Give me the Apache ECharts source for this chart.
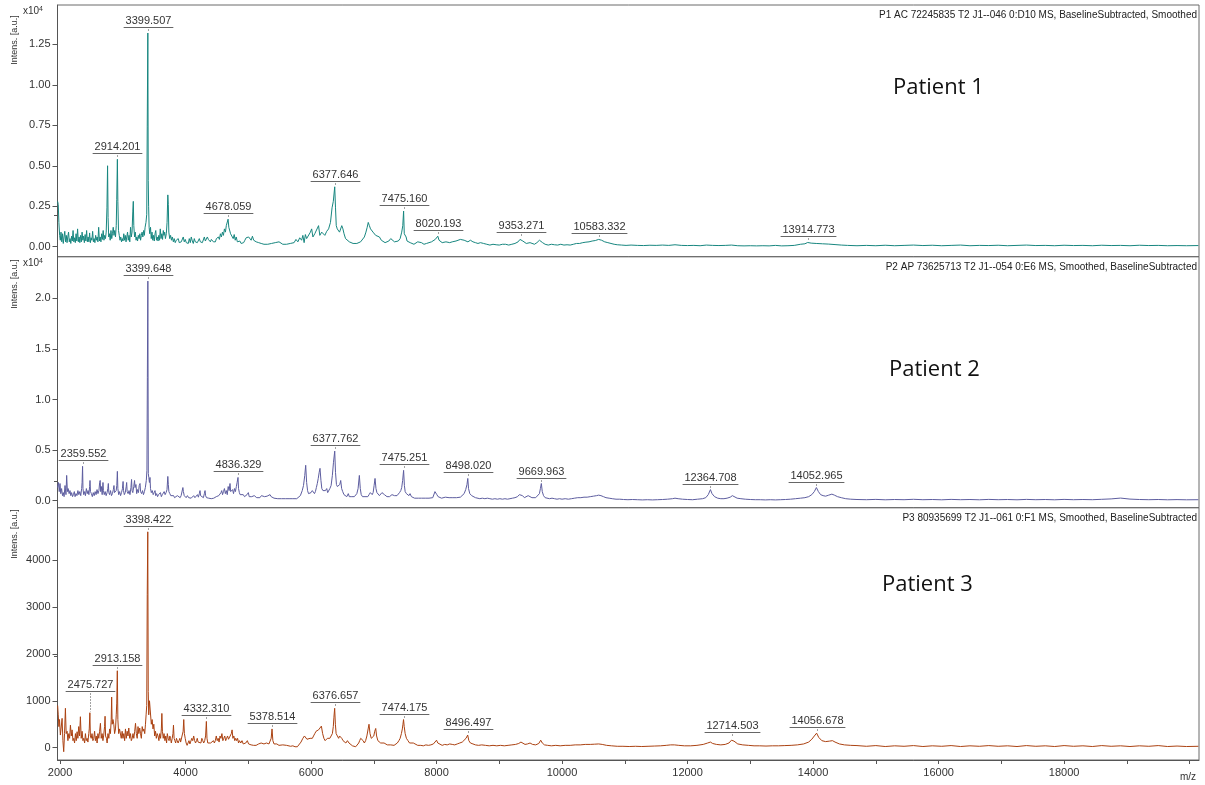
<!DOCTYPE html>
<html><head><meta charset="utf-8">
<script src="https://cdn.jsdelivr.net/npm/echarts@6/dist/echarts.min.js"></script>
<style>html,body{margin:0;padding:0;background:#fff}#c{width:1205px;height:785px}</style>
</head><body><div id="c"></div>
<script>
// ---------- DATA (m/z, intensity [a.u.]) ----------
const spectrum1 = [[1962,2800],[1972,2600],[1982,1500],[1994,700],[2005,400],[2016,900],[2028,300],[2040,800],[2052,200],[2064,600],[2076,950],[2088,300],[2100,700],[2112,250],[2124,600],[2136,900],[2148,300],[2160,500],[2172,200],[2184,650],[2196,350],[2208,1000],[2220,300],[2232,550],[2244,250],[2256,800],[2268,350],[2280,1100],[2292,300],[2304,600],[2316,250],[2328,700],[2340,300],[2352,900],[2364,400],[2376,650],[2388,250],[2400,750],[2412,350],[2424,1000],[2436,300],[2448,600],[2460,300],[2472,850],[2484,250],[2496,550],[2508,400],[2520,950],[2532,300],[2544,500],[2556,250],[2568,700],[2580,400],[2592,600],[2604,300],[2616,1200],[2628,350],[2640,600],[2652,300],[2664,800],[2676,450],[2688,1000],[2700,400],[2712,700],[2724,500],[2736,900],[2748,2400],[2758,5000],[2766,1800],[2776,600],[2788,800],[2800,400],[2812,1000],[2824,500],[2836,800],[2848,1200],[2860,700],[2872,1000],[2884,600],[2896,1300],[2904,2900],[2914.201,5400],[2922,2800],[2932,1000],[2944,700],[2956,400],[2968,600],[2980,300],[2992,500],[3004,350],[3016,800],[3028,400],[3040,700],[3052,300],[3064,600],[3076,900],[3088,400],[3100,700],[3112,300],[3124,1200],[3136,600],[3148,900],[3160,2200],[3168,2800],[3176,1300],[3188,600],[3200,900],[3212,400],[3224,600],[3236,350],[3248,700],[3260,500],[3272,800],[3284,400],[3296,700],[3308,900],[3320,600],[3332,1000],[3344,700],[3356,1200],[3370,1500],[3382,2000],[3390,7400],[3399.507,13200],[3406,4100],[3412,2500],[3420,1200],[3430,800],[3442,1200],[3454,500],[3466,900],[3478,400],[3490,700],[3502,350],[3514,800],[3526,1000],[3538,400],[3550,600],[3562,350],[3574,700],[3586,400],[3598,1100],[3610,500],[3622,800],[3634,450],[3646,1000],[3656,700],[3668,900],[3680,500],[3694,800],[3706,1500],[3718,3200],[3726,2600],[3734,900],[3748,500],[3762,700],[3776,400],[3790,600],[3806,300],[3820,500],[3836,250],[3852,400],[3868,300],[3884,500],[3900,250],[3916,350],[3932,300],[3948,200],[3964,600],[3980,300],[3996,450],[4012,250],[4028,350],[4044,200],[4060,500],[4076,250],[4092,600],[4108,350],[4124,200],[4140,500],[4156,300],[4172,400],[4188,250],[4204,300],[4220,500],[4236,300],[4252,400],[4268,250],[4284,300],[4300,600],[4316,350],[4332,400],[4348,600],[4364,450],[4380,500],[4396,300],[4412,450],[4428,350],[4444,300],[4460,400],[4476,300],[4492,500],[4508,400],[4524,600],[4540,450],[4556,800],[4572,600],[4588,900],[4604,700],[4620,1100],[4636,900],[4650,1300],[4664,1400],[4678.059,1700],[4690,1200],[4704,1300],[4718,800],[4732,900],[4746,700],[4760,500],[4776,750],[4792,400],[4808,600],[4826,300],[4846,250],[4866,350],[4886,200],[4906,300],[4926,250],[4946,400],[4966,550],[4986,450],[5006,600],[5026,500],[5046,400],[5066,650],[5086,400],[5106,450],[5126,300],[5146,350],[5166,250],[5186,300],[5206,200],[5226,250],[5250,150],[5280,200],[5310,150],[5340,120],[5370,200],[5400,150],[5430,250],[5460,200],[5490,300],[5520,200],[5550,150],[5580,200],[5610,150],[5640,120],[5670,200],[5700,150],[5730,250],[5760,450],[5790,300],[5820,550],[5850,400],[5870,700],[5890,250],[5910,750],[5930,500],[5960,600],[5990,900],[6010,1100],[6030,600],[6060,800],[6090,900],[6120,1300],[6140,700],[6170,900],[6190,1000],[6220,700],[6250,950],[6280,1100],[6310,1500],[6335,2400],[6355,2800],[6377.646,3700],[6390,2400],[6402,1300],[6418,1100],[6436,1200],[6454,900],[6472,1000],[6490,1300],[6508,1100],[6526,800],[6550,500],[6580,400],[6610,300],[6640,250],[6670,200],[6700,150],[6730,200],[6760,150],[6790,300],[6820,350],[6850,600],[6875,900],[6895,1200],[6912,1500],[6930,1300],[6948,1100],[6968,1000],[6988,900],[7008,800],[7030,700],[7060,800],[7090,600],[7120,400],[7150,300],[7180,250],[7210,300],[7240,350],[7270,500],[7300,400],[7330,300],[7360,250],[7390,350],[7420,500],[7445,900],[7462,1300],[7475.160,2200],[7486,800],[7500,700],[7515,600],[7530,350],[7555,300],[7580,250],[7610,200],[7640,150],[7670,250],[7700,300],[7730,200],[7760,250],[7800,150],[7840,200],[7880,250],[7920,300],[7950,350],[7980,450],[8000,550],[8020.193,650],[8040,400],[8060,300],[8090,250],[8120,200],[8150,300],[8180,350],[8210,250],[8250,300],[8280,250],[8310,350],[8340,300],[8380,450],[8410,500],[8440,400],[8470,450],[8500,300],[8540,400],[8580,300],[8620,250],[8660,200],[8700,250],[8750,200],[8800,150],[8850,100],[8900,150],[8950,120],[9000,100],[9050,150],[9100,150],[9150,100],[9200,150],[9250,200],[9300,300],[9330,450],[9353.271,550],[9375,350],[9400,250],[9430,200],[9460,300],[9490,250],[9520,200],[9560,150],[9600,250],[9640,400],[9665,450],[9690,250],[9730,150],[9780,100],[9830,150],[9880,120],[9930,100],[9980,150],[10030,100],[10080,120],[10130,100],[10180,150],[10230,200],[10280,200],[10330,250],[10380,280],[10430,300],[10480,350],[10530,380],[10583.332,450],[10630,400],[10680,300],[10730,250],[10780,200],[10830,150],[10880,120],[10950,100],[11020,80],[11100,100],[11200,80],[11300,70],[11400,90],[11500,80],[11600,100],[11700,80],[11800,120],[11900,80],[12000,70],[12100,80],[12200,60],[12300,100],[12400,80],[12500,70],[12600,80],[12700,100],[12800,60],[12900,50],[13000,60],[13100,50],[13200,60],[13300,50],[13400,80],[13500,50],[13600,60],[13700,80],[13800,150],[13870,180],[13914.773,260],[13970,220],[14050,200],[14150,180],[14250,160],[14350,130],[14450,100],[14550,80],[14700,60],[14850,80],[15000,60],[15150,90],[15300,60],[15450,80],[15600,100],[15750,70],[15900,90],[16050,60],[16200,80],[16350,100],[16500,60],[16650,80],[16800,70],[16950,90],[17100,60],[17250,80],[17400,100],[17550,70],[17700,80],[17850,60],[18000,90],[18150,70],[18300,80],[18450,60],[18600,90],[18750,70],[18900,80],[19050,60],[19200,90],[19350,70],[19500,80],[19650,60],[19800,70],[19950,60],[20140,70]];

const spectrum2 = [[1962,1300],[1975,1800],[1988,900],[2000,1700],[2012,700],[2025,1200],[2040,500],[2053,800],[2065,400],[2080,1500],[2095,600],[2106,2500],[2118,900],[2130,1200],[2145,700],[2159,1000],[2172,500],[2185,800],[2200,400],[2213,600],[2228,900],[2240,400],[2255,700],[2270,500],[2285,1000],[2300,600],[2315,900],[2330,500],[2345,1200],[2352,1800],[2359.552,3400],[2366,1200],[2378,600],[2392,900],[2405,500],[2420,1200],[2435,700],[2448,1000],[2460,600],[2472,1400],[2478,2000],[2486,900],[2500,700],[2515,400],[2530,800],[2545,500],[2560,900],[2575,600],[2590,1100],[2605,700],[2620,1000],[2632,1800],[2640,2000],[2648,900],[2660,1400],[2672,600],[2685,1800],[2692,1000],[2705,600],[2720,900],[2735,500],[2750,800],[2762,1200],[2770,1700],[2778,800],[2790,600],[2805,1000],[2820,500],[2835,700],[2850,1100],[2860,1500],[2868,800],[2880,700],[2895,1000],[2905,1500],[2914,2900],[2922,1200],[2935,600],[2950,900],[2965,500],[2980,800],[2995,1200],[3005,1900],[3012,1000],[3025,600],[3040,800],[3055,1400],[3062,1800],[3070,900],[3085,700],[3100,1000],[3115,600],[3130,1300],[3140,2100],[3148,1000],[3160,800],[3175,1400],[3188,2000],[3196,1300],[3210,1600],[3222,700],[3235,1100],[3250,800],[3262,1500],[3275,1700],[3284,900],[3300,700],[3315,1000],[3330,600],[3345,900],[3360,1300],[3375,2000],[3385,3000],[3392,12200],[3399.648,21700],[3407,2700],[3415,2300],[3425,1800],[3434,2300],[3442,1200],[3455,800],[3470,1000],[3485,600],[3500,800],[3514,1000],[3525,500],[3540,700],[3555,400],[3570,600],[3585,500],[3600,800],[3615,400],[3630,600],[3645,500],[3660,900],[3675,600],[3690,800],[3705,1100],[3718,2400],[3726,1600],[3735,900],[3750,700],[3765,500],[3780,600],[3795,400],[3810,500],[3825,300],[3840,400],[3855,300],[3870,500],[3885,350],[3900,400],[3915,300],[3930,500],[3945,600],[3958,1300],[3966,900],[3980,500],[3995,400],[4010,300],[4030,500],[4050,300],[4070,400],[4090,250],[4110,300],[4130,500],[4150,300],[4170,400],[4190,600],[4205,350],[4220,700],[4231,1000],[4240,500],[4255,400],[4270,600],[4285,300],[4300,700],[4311,1000],[4320,500],[4335,300],[4350,400],[4370,250],[4390,300],[4410,200],[4430,350],[4450,250],[4470,300],[4490,400],[4510,300],[4530,500],[4550,600],[4565,800],[4577,1000],[4590,600],[4605,900],[4620,1200],[4635,700],[4650,1000],[4665,600],[4680,1400],[4695,1000],[4709,1700],[4720,900],[4735,800],[4750,1100],[4765,700],[4780,1200],[4795,900],[4810,1400],[4822,1800],[4836.329,2300],[4845,1200],[4858,800],[4870,600],[4885,700],[4900,500],[4920,600],[4940,400],[4960,500],[4980,600],[5001,800],[5015,400],[5035,300],[5055,400],[5075,300],[5095,500],[5115,400],[5135,300],[5160,400],[5185,300],[5210,500],[5240,500],[5260,400],[5280,300],[5300,450],[5320,350],[5347,600],[5365,400],[5385,300],[5410,250],[5440,300],[5470,200],[5500,250],[5530,200],[5558,300],[5590,200],[5620,150],[5650,200],[5680,150],[5710,200],[5740,150],[5772,200],[5800,300],[5830,500],[5860,1000],[5880,1500],[5900,2500],[5915,3500],[5930,1800],[5945,1000],[5960,700],[5980,600],[6000,800],[6020,1000],[6037,1000],[6055,700],[6070,900],[6085,1300],[6100,1700],[6115,2200],[6130,2800],[6143,3200],[6158,2000],[6172,1200],[6190,1000],[6210,900],[6230,1000],[6250,1200],[6265,800],[6280,900],[6300,1200],[6320,1500],[6340,2500],[6358,3800],[6377.762,4900],[6390,2800],[6405,1600],[6420,1400],[6440,1300],[6458,1600],[6473,2000],[6488,1200],[6505,900],[6525,600],[6545,500],[6570,400],[6594,700],[6610,400],[6630,300],[6650,400],[6670,300],[6690,400],[6710,500],[6730,700],[6750,1200],[6770,2500],[6785,1200],[6800,600],[6820,400],[6840,300],[6860,400],[6887,500],[6905,400],[6925,600],[6945,800],[6960,900],[6975,600],[6990,800],[7005,1500],[7020,2200],[7035,1200],[7050,800],[7070,700],[7090,500],[7110,600],[7130,800],[7152,800],[7170,600],[7190,500],[7210,400],[7230,500],[7250,400],[7270,500],[7290,600],[7312,600],[7330,500],[7350,600],[7370,500],[7390,600],[7410,800],[7430,1000],[7445,1300],[7460,2000],[7475.251,3000],[7488,1500],[7500,900],[7520,700],[7540,600],[7560,500],[7578,700],[7600,400],[7625,300],[7650,250],[7680,300],[7710,250],[7737,300],[7760,250],[7790,300],[7820,250],[7850,300],[7880,250],[7910,200],[7940,300],[7960,450],[7975,900],[7990,1000],[8005,600],[8025,400],[8050,300],[8080,250],[8110,300],[8140,350],[8170,250],[8200,300],[8230,250],[8260,300],[8290,250],[8320,300],[8350,400],[8380,350],[8410,500],[8440,700],[8465,1100],[8485,1600],[8498.020,2200],[8510,1200],[8530,700],[8560,500],[8590,400],[8620,300],[8650,250],[8690,200],[8730,250],[8770,200],[8810,250],[8850,200],[8890,150],[8930,200],[8970,150],[9010,200],[9050,150],[9090,200],[9130,150],[9170,200],[9210,250],[9250,300],[9290,400],[9320,600],[9345,700],[9370,500],[9400,300],[9430,400],[9460,500],[9490,350],[9520,300],[9550,250],[9580,300],[9610,400],[9640,700],[9655,1200],[9669.963,1700],[9685,900],[9705,500],[9730,300],[9760,250],[9800,200],[9840,250],[9880,200],[9920,150],[9960,200],[10000,150],[10050,200],[10100,150],[10150,200],[10200,250],[10250,300],[10300,300],[10350,350],[10400,350],[10450,400],[10500,450],[10550,500],[10583,550],[10620,500],[10660,400],[10700,300],[10750,250],[10800,200],[10860,150],[10920,150],[10980,120],[11050,100],[11120,120],[11200,100],[11280,80],[11360,100],[11440,80],[11520,100],[11600,120],[11680,150],[11760,200],[11800,250],[11850,200],[11920,150],[12000,120],[12080,100],[12160,150],[12240,200],[12290,300],[12330,600],[12364.708,1100],[12390,700],[12430,400],[12480,250],[12530,200],[12580,200],[12630,250],[12680,350],[12714,500],[12745,350],[12790,250],[12850,200],[12920,150],[13000,120],[13080,100],[13160,100],[13240,80],[13320,100],[13400,80],[13480,100],[13560,120],[13640,150],[13720,200],[13800,250],[13870,300],[13930,400],[13980,600],[14020,900],[14052.965,1300],[14085,900],[14120,600],[14160,500],[14200,450],[14250,550],[14300,650],[14340,550],[14390,400],[14450,300],[14520,200],[14600,150],[14700,120],[14850,100],[15000,130],[15150,90],[15300,120],[15450,100],[15600,140],[15750,100],[15900,120],[16050,90],[16200,130],[16350,100],[16500,120],[16650,90],[16800,130],[16950,100],[17100,120],[17250,90],[17400,130],[17550,100],[17700,120],[17850,90],[18000,130],[18150,100],[18300,120],[18450,100],[18600,140],[18750,180],[18900,260],[19050,160],[19200,120],[19350,100],[19500,120],[19650,90],[19800,110],[19950,90],[20140,100]];

const spectrum3 = [[1962,900],[1972,700],[1982,450],[1992,600],[2006,270],[2018,420],[2033,625],[2046,150],[2059,-85],[2072,300],[2086,840],[2098,300],[2113,350],[2126,150],[2140,300],[2153,200],[2166,480],[2180,250],[2193,380],[2206,150],[2219,200],[2232,100],[2246,300],[2259,150],[2272,340],[2285,200],[2298,450],[2312,250],[2325,660],[2338,200],[2352,350],[2365,150],[2378,200],[2392,100],[2405,300],[2418,150],[2432,200],[2445,120],[2458,300],[2466,400],[2475.727,745],[2484,250],[2497,200],[2510,300],[2524,150],[2538,200],[2551,350],[2564,150],[2578,250],[2591,100],[2604,300],[2618,200],[2631,350],[2644,520],[2657,200],[2671,300],[2684,150],[2697,270],[2710,450],[2718,670],[2726,250],[2740,200],[2751,100],[2764,300],[2778,200],[2791,400],[2804,300],[2816,600],[2823,1080],[2831,500],[2844,600],[2857,500],[2870,300],[2884,400],[2896,700],[2904,950],[2913.158,1640],[2922,600],[2935,300],[2948,400],[2963,400],[2976,200],[2990,350],[3003,200],[3016,300],[3030,150],[3043,400],[3056,200],[3070,350],[3083,250],[3096,420],[3110,200],[3123,300],[3136,150],[3150,200],[3163,300],[3176,200],[3190,350],[3203,520],[3216,300],[3230,200],[3243,450],[3256,300],[3270,420],[3283,300],[3296,200],[3310,450],[3322,350],[3336,400],[3350,300],[3362,500],[3372,700],[3382,900],[3390,3260],[3398.422,4600],[3406,1200],[3414,700],[3426,1000],[3442,1000],[3455,500],[3468,600],[3482,400],[3495,500],[3508,250],[3522,350],[3535,200],[3549,300],[3562,250],[3576,150],[3590,300],[3603,200],[3615,400],[3623,730],[3632,350],[3645,200],[3658,300],[3672,150],[3685,250],[3698,100],[3710,300],[3724,200],[3738,150],[3750,250],[3761,200],[3774,100],[3788,200],[3800,300],[3808,480],[3818,200],[3830,150],[3843,100],[3856,200],[3868,150],[3882,100],[3896,150],[3910,200],[3922,120],[3936,150],[3950,100],[3962,350],[3972,600],[3982,300],[3995,200],[4010,100],[4025,50],[4040,100],[4055,150],[4070,80],[4085,100],[4100,200],[4115,150],[4130,250],[4145,150],[4160,100],[4175,150],[4187,200],[4200,120],[4215,100],[4230,150],[4245,100],[4260,200],[4275,150],[4290,100],[4305,150],[4320,250],[4332.310,560],[4342,200],[4355,100],[4370,80],[4385,120],[4400,100],[4415,60],[4430,100],[4445,150],[4460,100],[4475,150],[4490,250],[4505,150],[4520,200],[4535,120],[4550,250],[4565,200],[4580,300],[4595,150],[4610,200],[4625,250],[4640,150],[4655,200],[4670,250],[4685,180],[4700,200],[4715,150],[4730,300],[4742,380],[4755,200],[4770,250],[4785,150],[4800,200],[4815,150],[4830,200],[4845,100],[4860,150],[4880,100],[4900,150],[4920,80],[4940,120],[4960,100],[4985,150],[5005,80],[5025,100],[5045,60],[5065,100],[5085,50],[5105,80],[5125,50],[5144,50],[5165,80],[5185,40],[5205,100],[5225,60],[5250,80],[5270,50],[5290,100],[5310,60],[5330,80],[5350,100],[5365,200],[5378.514,400],[5392,150],[5410,80],[5430,60],[5455,80],[5489,50],[5520,40],[5550,60],[5580,40],[5610,50],[5640,30],[5675,30],[5710,40],[5745,20],[5782,20],[5810,60],[5840,120],[5870,200],[5895,250],[5915,290],[5935,180],[5960,150],[5985,200],[6005,180],[6021,200],[6040,250],[6060,300],[6080,350],[6101,350],[6120,380],[6140,420],[6165,460],[6185,300],[6205,200],[6225,150],[6245,180],[6261,200],[6280,180],[6300,200],[6320,250],[6340,300],[6355,450],[6365,650],[6376.657,840],[6388,500],[6400,300],[6420,250],[6440,200],[6455,250],[6473,250],[6490,200],[6510,150],[6530,120],[6555,100],[6580,150],[6605,100],[6630,60],[6660,40],[6690,30],[6712,20],[6735,60],[6760,100],[6775,150],[6792,200],[6810,180],[6830,150],[6850,100],[6870,150],[6890,250],[6910,400],[6924,500],[6940,300],[6960,200],[6980,180],[7000,250],[7015,350],[7031,410],[7045,250],[7065,150],[7085,120],[7110,100],[7135,80],[7164,100],[7190,80],[7215,60],[7245,50],[7270,60],[7300,50],[7323,50],[7350,80],[7375,100],[7400,150],[7420,200],[7440,300],[7455,400],[7465,500],[7474.175,600],[7485,450],[7500,300],[7520,200],[7545,150],[7570,100],[7600,80],[7630,100],[7660,60],[7700,50],[7749,50],[7790,40],[7830,60],[7870,50],[7910,60],[7950,80],[7980,120],[8000,160],[8020,100],[8050,60],[8090,50],[8130,70],[8170,60],[8210,80],[8250,70],[8290,60],[8330,80],[8370,100],[8410,120],[8440,150],[8470,200],[8496.497,270],[8515,150],[8540,100],[8580,80],[8620,60],[8670,50],[8720,60],[8780,50],[8840,40],[8900,50],[8960,40],[9020,50],[9080,40],[9140,50],[9200,60],[9260,70],[9310,90],[9345,120],[9370,90],[9410,70],[9450,80],[9490,100],[9530,70],[9580,60],[9630,90],[9660,160],[9685,100],[9720,60],[9770,50],[9830,40],[9900,50],[9970,40],[10050,50],[10130,50],[10210,60],[10290,60],[10370,70],[10450,70],[10520,75],[10583,80],[10640,70],[10710,50],[10790,40],[10880,30],[10970,30],[11070,25],[11170,30],[11270,25],[11370,30],[11470,35],[11570,40],[11660,50],[11730,60],[11790,60],[11860,50],[11950,40],[12050,40],[12150,50],[12250,70],[12320,100],[12364,120],[12400,90],[12460,70],[12530,60],[12600,70],[12660,100],[12700,160],[12714.503,200],[12740,140],[12800,80],[12880,60],[12970,50],[13060,40],[13150,40],[13250,35],[13350,40],[13450,40],[13550,45],[13650,50],[13750,60],[13850,80],[13930,120],[13980,180],[14020,250],[14056.678,310],[14090,220],[14140,150],[14200,130],[14260,140],[14310,150],[14350,120],[14420,80],[14500,60],[14600,50],[14700,45],[14850,30],[15000,45],[15150,25],[15300,40],[15450,30],[15600,45],[15750,25],[15900,40],[16050,30],[16200,45],[16350,25],[16500,40],[16650,30],[16800,45],[16950,30],[17100,40],[17250,25],[17400,45],[17550,30],[17700,40],[17850,25],[18000,45],[18150,30],[18300,40],[18450,25],[18600,45],[18750,30],[18900,40],[19050,25],[19200,40],[19350,30],[19500,45],[19650,25],[19800,35],[19950,25],[20140,30]];

// annotated peaks: [m/z, peak intensity, label anchor intensity]
const peaks1 = [[2914.201,5400,5400],[3399.507,13200,13200],[4678.059,1700,1700],[6377.646,3700,3700],[7475.160,2200,2200],[8020.193,650,650],[9353.271,550,550],[10583.332,450,450],[13914.773,260,260]];
const peaks2 = [[2359.552,3400,3400],[3399.648,21700,21700],[4836.329,2300,2300],[6377.762,4900,4900],[7475.251,3000,3000],[8498.020,2200,2200],[9669.963,1700,1700],[12364.708,1100,1100],[14052.965,1300,1300]];
const peaks3 = [[2475.727,745,1080],[2913.158,1640,1640],[3398.422,4600,4600],[4332.310,560,560],[5378.514,400,400],[6376.657,840,840],[7474.175,600,600],[8496.497,270,270],[12714.503,200,200],[14056.678,310,310]];

// tick values
const yTicks1 = [0, 2500, 5000, 7500, 10000, 12500];
const yMinor1 = [500,1000,1500,2000,3000,3500,4000,4500,5500,6000,6500,7000,8000,8500,9000,9500,10500,11000,11500,12000,13000,13500,14000,14500];
const yTicks2 = [0, 5000, 10000, 15000, 20000];
const yMinor2 = [1000,2000,3000,4000,6000,7000,8000,9000,11000,12000,13000,14000,16000,17000,18000,19000,21000,22000,23000,24000];
const yTicks3 = [0, 1000, 2000, 3000, 4000];
const yMinor3 = [200,400,600,800,1200,1400,1600,1800,2200,2400,2600,2800,3200,3400,3600,3800,4200,4400,4600,4800,5000];
const xTicks = [2000,3000,4000,5000,6000,7000,8000,9000,10000,11000,12000,13000,14000,15000,16000,17000,18000,19000,20000];
const xLabels = [2000,4000,6000,8000,10000,12000,14000,16000,18000];

const headers = ['P1 AC 72245835 T2 J1--046 0:D10 MS, BaselineSubtracted, Smoothed',
                 'P2 AP 73625713 T2 J1--054 0:E6 MS, Smoothed, BaselineSubtracted',
                 'P3 80935699 T2 J1--061 0:F1 MS, Smoothed, BaselineSubtracted'];
const patients = ['Patient 1', 'Patient 2', 'Patient 3'];
const colors = ['#17867f', '#5d5d9f', '#ab4212'];

// ---------- CHART ----------
const chart = echarts.init(document.getElementById('c'), null, {renderer: 'canvas'});
const FONT = '"Liberation Sans", Arial, sans-serif';
const X_MIN = 1960, X_MAX = 20150;
const grids = [
  {left: 57.5, right: 6, top: 5, height: 251.7},
  {left: 57.5, right: 6, top: 256.7, height: 251},
  {left: 57.5, right: 6, top: 507.7, height: 252.3}
].map(g => Object.assign(g, {show: true, borderColor: '#6a6a6a', borderWidth: 1, containLabel: false}));
const yRanges = [[-618, 14930], [-690, 24110], [-262, 5114]];
const yMaj = [yTicks1, yTicks2, yTicks3];
const yMin = [yMinor1, yMinor2, yMinor3];
const yFmt = [v => (v / 10000).toFixed(2), v => (v / 10000).toFixed(1), v => String(v)];

const xAxes = [0, 1, 2].map(i => ({
  type: 'value', gridIndex: i, min: X_MIN, max: X_MAX, position: 'bottom',
  show: i === 2,
  axisLine: {show: true, onZero: false, lineStyle: {color: '#555'}},
  splitLine: {show: false},
  axisTick: {show: true, length: 4, customValues: xTicks, lineStyle: {color: '#555'}},
  axisLabel: {show: true, customValues: xLabels, formatter: v => String(v), color: '#333', fontSize: 11, fontFamily: FONT, margin: 7}
}));
const yAxes = [0, 1, 2].map(i => ({
  type: 'value', gridIndex: i, min: yRanges[i][0], max: yRanges[i][1], position: 'left',
  axisLine: {show: true, onZero: false, lineStyle: {color: '#555'}},
  splitLine: {show: false},
  axisTick: {show: true, length: 5, customValues: yMaj[i], lineStyle: {color: '#555'}},
  axisLabel: {show: true, customValues: yMaj[i], formatter: yFmt[i], color: '#333', fontSize: 11, fontFamily: FONT, margin: 7}
}));

// minor ticks on the y axis, placed through the axis scale
function minorTick(params, api) {
  const p = api.coord([X_MIN, api.value(0)]);
  const x0 = params.coordSys.x;
  const y = Math.round(p[1]) + 0.5;
  return {type: 'line', shape: {x1: x0 - 3, y1: y, x2: x0, y2: y}, style: {stroke: '#555', lineWidth: 1}};
}

function labelItem(params, api) {
  const mz = api.value(0), pk = api.value(1), lv = api.value(2);
  const p = api.coord([mz, pk]);
  const q = api.coord([mz, lv]);
  const ul = Math.round(q[1] - 6) + 0.5;
  const txt = mz.toFixed(3);
  const w = (txt.length - 1) * 6.1 + 3 + 4;
  const x = Math.round(p[0]) + 0.5;
  const ch = [
    {type: 'line', shape: {x1: x - w / 2, y1: ul, x2: x + w / 2, y2: ul}, style: {stroke: '#666', lineWidth: 1}},
    {type: 'text', x: x, y: ul - 1.5, style: {text: txt, fill: '#333', font: '11px ' + FONT, align: 'center', verticalAlign: 'bottom'}}
  ];
  if (p[1] - 1 > ul + 2) ch.push({type: 'line', shape: {x1: x, y1: ul + 2, x2: x, y2: p[1] - 1}, style: {stroke: '#444', lineWidth: 1, lineDash: [1, 2]}});
  return {type: 'group', children: ch};
}

const specs = [spectrum1, spectrum2, spectrum3];
const pks = [peaks1, peaks2, peaks3];
const series = [];
[0, 1, 2].forEach(i => {
  series.push({type: 'line', xAxisIndex: i, yAxisIndex: i, data: specs[i], showSymbol: false, symbol: 'none',
    lineStyle: {color: colors[i], width: 1}, itemStyle: {color: colors[i]}, animation: false, silent: true, clip: true});
  series.push({type: 'custom', xAxisIndex: i, yAxisIndex: i, data: pks[i], renderItem: labelItem, animation: false, silent: true, clip: false, z: 5});
  series.push({type: 'custom', xAxisIndex: i, yAxisIndex: i, data: yMin[i].map(v => [X_MIN, v]),
    renderItem: minorTick, animation: false, silent: true, clip: false, z: 6});
});

const graphic = [];
const headY = [16, 268, 519];
const patY = [90, 372, 587];
const patX = [893, 889, 882];
const axNameY = [40, 284, 534];
[0, 1, 2].forEach(i => {
  graphic.push({type: 'text', right: 8, top: headY[i] - 6, style: {text: headers[i], fill: '#222', font: '10px ' + FONT}});
  graphic.push({type: 'text', left: patX[i], top: patY[i] - 13, style: {text: patients[i], fill: '#111', font: '22px "Open Sans", sans-serif'}});
  graphic.push({type: 'text', x: 15, y: axNameY[i], rotation: Math.PI / 2, style: {text: 'Intens. [a.u.]', fill: '#333', font: '9px ' + FONT, align: 'center', verticalAlign: 'middle'}});
});
[0, 1].forEach(i => {
  graphic.push({type: 'text', left: 23, top: [6, 258][i], style: {rich: {b: {fontSize: 10, fontFamily: FONT, fill: '#333'}, s: {fontSize: 7, fontFamily: FONT, fill: '#333', verticalAlign: 'top', padding: [0,0,4,0]}}, text: '{b|x10}{s|4}'}});
});
graphic.push({type: 'text', right: 9, top: 772, style: {text: 'm/z', fill: '#333', font: '10px ' + FONT}});

chart.setOption({
  animation: false,
  backgroundColor: '#fff',
  grid: grids,
  xAxis: xAxes,
  yAxis: yAxes,
  series: series,
  graphic: graphic
});
</script></body></html>
